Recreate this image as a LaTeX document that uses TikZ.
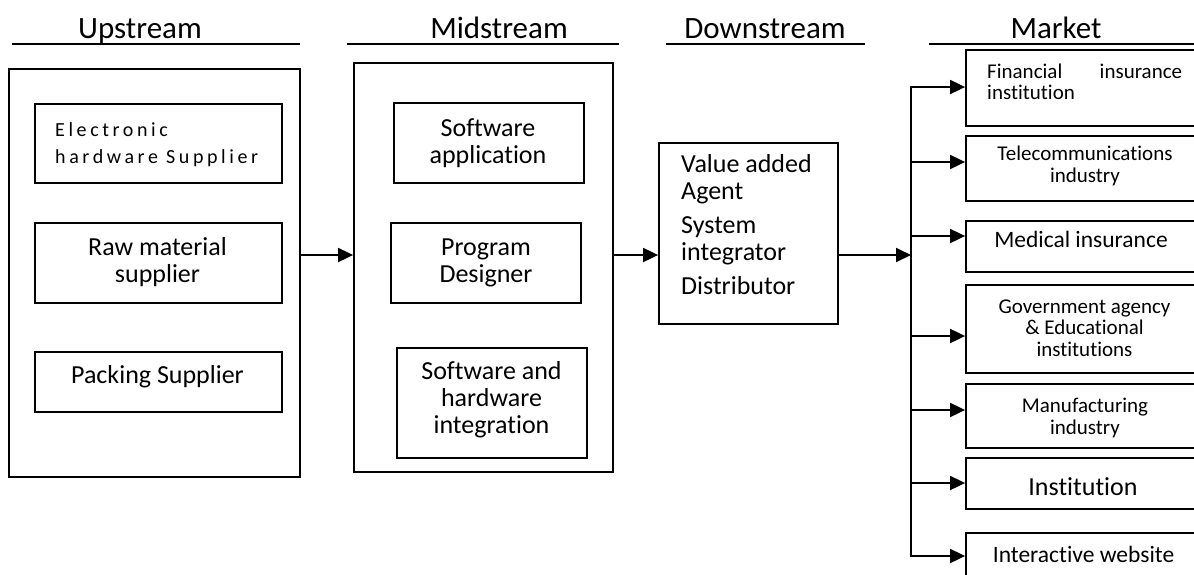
\documentclass[tikz,border=0pt]{standalone}
\usepackage{fontspec}
\setmainfont{Carlito}[Ligatures=NoCommon]
\newfontfamily\spacedfont[LetterSpace=18,Ligatures=NoCommon]{Carlito}
\usetikzlibrary{arrows.meta}

\tikzset{
  box/.style={draw,line width=1.8pt,inner sep=0pt,fill=none},
  lbl/.style={inner sep=0pt,align=center,font=\fontsize{26}{27}\selectfont},
  small/.style={inner sep=0pt,align=center,font=\fontsize{21}{21.5}\selectfont},
  head/.style={inner sep=0pt,anchor=base,font=\fontsize{31}{37}\selectfont},
  rule/.style={line width=2.6pt},
  link/.style={line width=1.8pt},
  arr/.style={line width=1.8pt,-{Triangle[length=15pt,width=14pt]}},
}

\begin{document}
\begin{tikzpicture}[x=1pt,y=-1pt]
\useasboundingbox (0,0) rectangle (1194,574);
\clip (0,0) rectangle (1194,574);

% column headings with their rules
\node[head] (hUp)   at (140,38)  {Upstream};
\node[head] (hMid)  at (499,38)  {Midstream};
\node[head] (hDown) at (765,38)  {Downstream};
\node[head] (hMkt)  at (1056,38) {Market};
\draw[rule] (12,44)  -- (300,44);
\draw[rule] (347,44) -- (619,44);
\draw[rule] (666,44) -- (865,44);
\draw[rule] (929,44) -- (1200,44);

% upstream (multi-line labels are placed by the baseline of their last line)
\node[box,minimum width=291pt,minimum height=408pt] (UpOuter) at (154.5,273) {};
\node[box,minimum width=247pt,minimum height=79pt] (Elec) at (158.5,143.5) {};
\node[box,minimum width=247pt,minimum height=80pt] (Raw)  at (158.5,263) {};
\node[box,minimum width=247pt,minimum height=60pt] (Pack) at (158.5,382) {};
\node[inner sep=0pt,anchor=base west,align=left,font=\spacedfont\fontsize{20}{27}\selectfont]
  (tElec) at (55,163) {Electronic\\hardware Supplier};
\node[lbl,anchor=base] (tRaw)  at (157.5,282) {Raw material\\supplier};
\node[lbl,anchor=base] (tPack) at (157.5,383) {Packing Supplier};

% midstream
\node[box,minimum width=259pt,minimum height=409pt] (MidOuter) at (483.5,267.5) {};
\node[box,minimum width=190pt,minimum height=80pt]  (SoftApp) at (489,143) {};
\node[box,minimum width=190pt,minimum height=80pt]  (ProgDes) at (486,263) {};
\node[box,minimum width=190pt,minimum height=110pt] (SwHw)    at (492,403) {};
\node[lbl,anchor=base] (tSoftApp) at (488,163)   {Software\\application};
\node[lbl,anchor=base] (tProgDes) at (486,282)   {Program\\Designer};
\node[lbl,anchor=base] (tSwHw)    at (491.5,433) {Software and\\hardware\\integration};

% downstream
\node[box,minimum width=179pt,minimum height=181pt] (Down) at (748.5,233.5) {};
\node[lbl,align=left,anchor=base west] (tDown) at (681,294)
  {Value added\\Agent\\[7pt]System\\integrator\\[7pt]Distributor};

% market
\node[box,minimum width=236pt,minimum height=76pt] (Fin)  at (1084,88) {};
\node[box,minimum width=236pt,minimum height=65pt] (Tel)  at (1084,168.5) {};
\node[box,minimum width=236pt,minimum height=51pt] (Med)  at (1084,246.5) {};
\node[box,minimum width=236pt,minimum height=88pt] (Gov)  at (1084,329) {};
\node[box,minimum width=236pt,minimum height=64pt] (Man)  at (1084,416) {};
\node[box,minimum width=236pt,minimum height=51pt] (Inst) at (1084,483.5) {};
\node[box,minimum width=236pt,minimum height=60pt] (Int)  at (1084,563) {};

\node[small,align=left,text width=195pt,anchor=base west] (tFin) at (987,78)
  {Financial\hfill insurance\\institution};
\node[small,anchor=base] (tTel) at (1085,182) {Telecommunications\\industry};
\node[inner sep=0pt,anchor=base,font=\fontsize{23.5}{26}\selectfont] (tMed) at (1081,247) {Medical insurance};
\node[small,anchor=base] (tGov) at (1084.5,356) {Government agency\\\& Educational\\institutions};
\node[small,anchor=base] (tMan) at (1085,434) {Manufacturing\\industry};
\node[inner sep=0pt,anchor=base,font=\fontsize{26}{27}\selectfont] (tInst) at (1083,495) {Institution};
\node[inner sep=0pt,anchor=base,font=\fontsize{23.5}{26}\selectfont] (tInt) at (1083.5,562) {Interactive website};

% flow between the stages
\coordinate (flow) at (0,255);
\coordinate (bus) at (911,0);
\draw[arr] (UpOuter.east |- flow) -- (MidOuter.west |- flow);
\draw[arr] (MidOuter.east |- flow) -- (Down.west |- flow);
\draw[arr] (Down.east |- flow) -- (bus |- flow);

% distribution bus to the market segments
\foreach \n/\d in {Fin/1,Tel/6.5,Med/10.5,Gov/-7,Man/6,Inst/0.5,Int/7}{
  \path ([yshift=\d pt]\n.west) coordinate (b\n);
  \draw[arr] (bus |- b\n) -- (b\n);
}
\draw[link] ([yshift=0.9pt]bus |- bFin) -- ([yshift=-0.9pt]bus |- bInt);
\end{tikzpicture}
\end{document}
